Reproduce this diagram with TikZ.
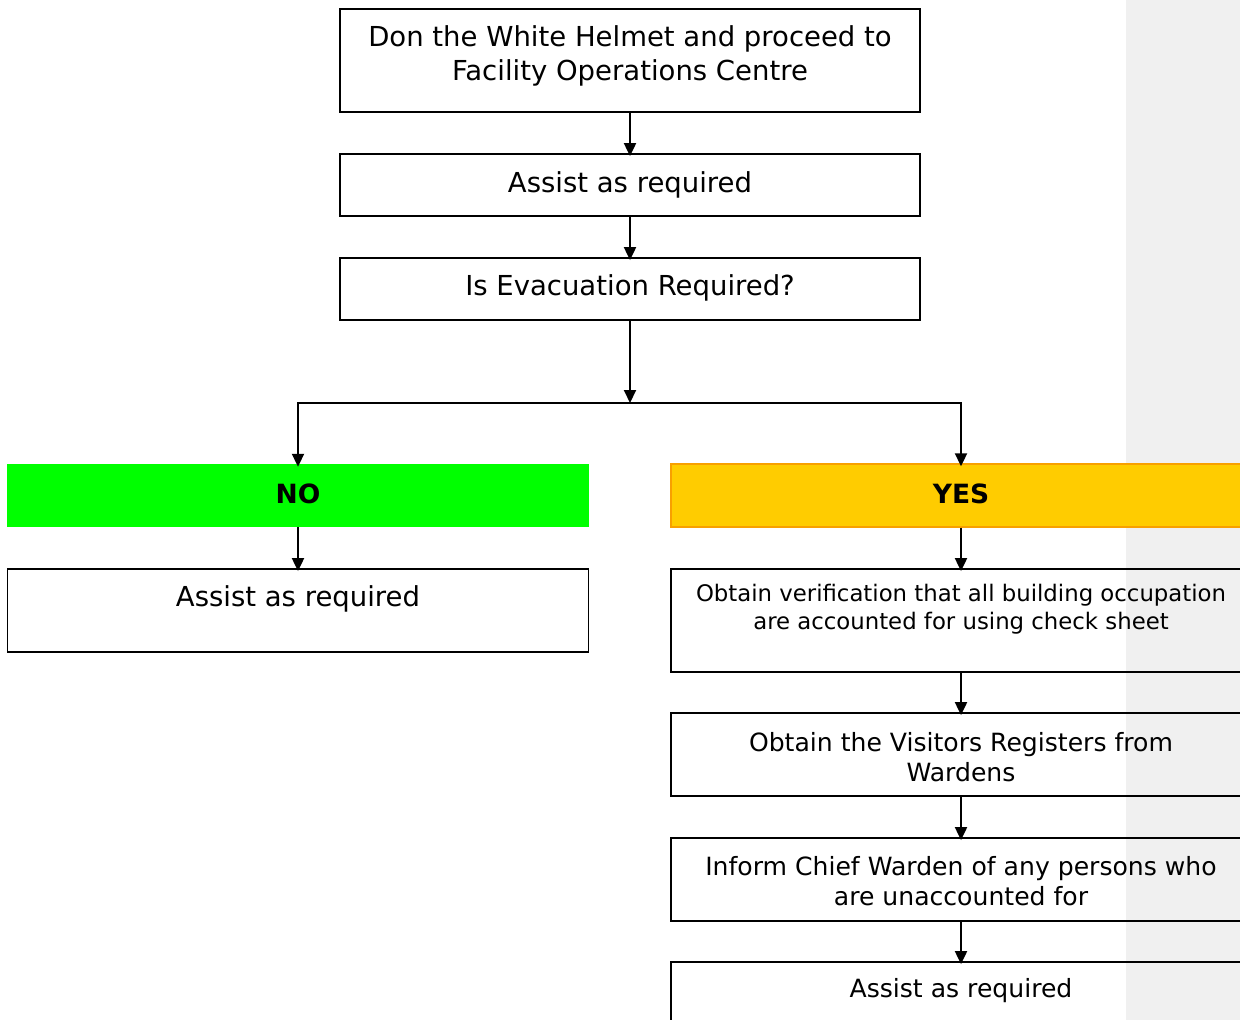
\documentclass[tikz,border=0pt]{standalone}
\usepackage{fontspec}
\setmainfont{DejaVu Sans}
\usetikzlibrary{arrows.meta}
\begin{document}
\begin{tikzpicture}[x=1pt,y=-1pt,
  box/.style={draw=black,line width=1.8pt,minimum width=580pt,inner sep=0pt},
  txt/.style={inner sep=0pt,align=center},
  bigf/.style={font=\fontsize{27.5}{34}\selectfont},
  midf/.style={font=\fontsize{25.1}{30}\selectfont},
  smallf/.style={font=\fontsize{22.8}{28}\selectfont},
  boldf/.style={font=\fontsize{26.5}{30}\selectfont\bfseries},
  arr/.style={line width=2pt,shorten >=-3pt,-{Triangle[length=13pt,width=12pt]}}]
\useasboundingbox (0,0) rectangle (1240,1020);
\fill[fill={rgb,255:red,240;green,240;blue,240}] (1126,0) rectangle (1240,1020);
\begin{scope}
\clip (0,0) rectangle (1240,1020);
% top column
\node[box,minimum height=103pt] (b1) at (630,60.5) {};
\node[txt,bigf] (t1) at (630,55.5) {Don the White Helmet and proceed to\\Facility Operations Centre};
\node[box,minimum height=62pt] (b2) at (630,185) {};
\node[txt,bigf] (t2) at (630,184.5) {Assist as required};
\node[box,minimum height=62pt] (b3) at (630,289) {};
\node[txt,bigf] (t3) at (630,287.5) {Is Evacuation Required?};
\coordinate (j) at (630,403);
% NO branch
\node[fill={rgb,255:red,0;green,255;blue,0},minimum width=582pt,minimum height=63pt,inner sep=0pt] (no) at (298,495.5) {};
\node[txt,boldf] (tno) at (298,493.5) {NO};
\node[box,minimum width=581pt,minimum height=83pt] (noa) at (298,610.5) {};
\node[txt,bigf] (tnoa) at (298,598.5) {Assist as required};
% YES branch
\node[fill={rgb,255:red,255;green,204;blue,0},draw={rgb,255:red,248;green,160;blue,0},line width=1.4pt,minimum width=580pt,minimum height=63pt,inner sep=0pt] (yes) at (961,495.5) {};
\node[txt,boldf] (tyes) at (961,493.5) {YES};
\node[box,minimum height=103pt] (y1) at (961,620.5) {};
\node[txt,smallf] (ty1) at (961,609) {Obtain verification that all building occupation\\are accounted for using check sheet};
\node[box,minimum height=83pt] (y2) at (961,754.5) {};
\node[txt,midf] (ty2) at (961,757) {Obtain the Visitors Registers from\\Wardens};
\node[box,minimum height=83pt] (y3) at (961,879.5) {};
\node[txt,midf] (ty3) at (961,881) {Inform Chief Warden of any persons who\\are unaccounted for};
\node[box,minimum height=83pt] (y4) at (961,1003.5) {};
\node[txt,midf] (ty4) at (961,990.5) {Assist as required};
% connectors
\draw[arr] (b1) -- (b2);
\draw[arr] (b2) -- (b3);
\draw[arr,shorten >=0pt] (b3) -- (j);
\draw[arr] (j) -| (no.north);
\draw[arr] (j) -| (yes.north);
\draw[arr] (no) -- (noa);
\draw[arr] (yes) -- (y1);
\draw[arr] (y1) -- (y2);
\draw[arr] (y2) -- (y3);
\draw[arr] (y3) -- (y4);
\end{scope}
\end{tikzpicture}
\end{document}
